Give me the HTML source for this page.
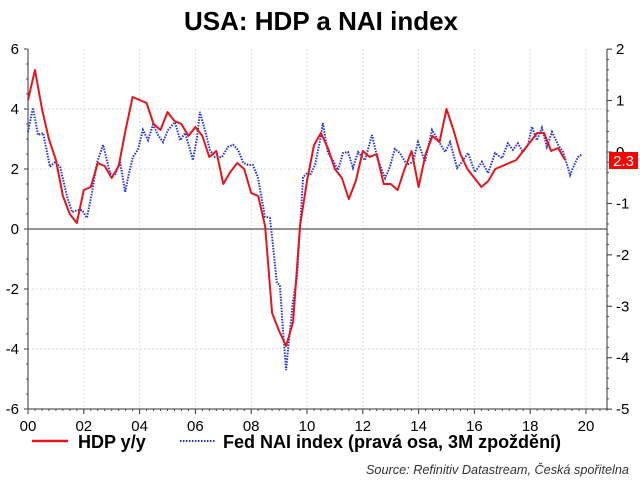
<!DOCTYPE html>
<html><head><meta charset="utf-8"><style>
body{margin:0;background:#fff;width:640px;height:488px;overflow:hidden;font-family:"Liberation Sans",Arial,sans-serif}
</style></head><body>
<svg id="c" width="640" height="488" xmlns="http://www.w3.org/2000/svg">
<text x="321" y="30" text-anchor="middle" font-size="26" font-weight="bold">USA: HDP a NAI index</text>
<g id="grid"></g><g id="axes"></g><g id="series"></g>
<g>
<line x1="32" y1="441" x2="68" y2="441" stroke="#e8141c" stroke-width="2.5"/>
<text x="78" y="448" font-size="18" font-weight="bold">HDP y/y</text>
<line x1="180" y1="441" x2="215" y2="441" stroke="#2233dd" stroke-width="2" stroke-dasharray="1.5,1.5"/>
<text x="223" y="448" font-size="18" font-weight="bold">Fed NAI index (pravá osa, 3M zpoždění)</text>
</g>
<text x="629" y="474" text-anchor="end" font-size="12.7" font-style="italic" fill="#333">Source: Refinitiv Datastream, Česká spořitelna</text>
</svg>
<script>
const hdpStart = 2000;
const hdp = [4.3,5.3,4.0,3.0, 2.3,1.1,0.5,0.2, 1.3,1.4,2.2,2.1, 1.7,2.1,3.3,4.4,
 4.3,4.2,3.5,3.3, 3.9,3.6,3.5,3.1, 3.4,3.1,2.4,2.6, 1.5,1.9,2.2,2.0,
 1.2,1.1,0.1,-2.8, -3.4,-3.9,-3.1,0.1, 1.6,2.8,3.2,2.7, 2.0,1.7,1.0,1.6,
 2.6,2.4,2.5,1.5, 1.5,1.3,2.0,2.6, 1.4,2.5,3.1,2.9, 4.0,3.3,2.5,2.0,
 1.7,1.4,1.6,2.0, 2.1,2.2,2.3,2.6, 2.9,3.2,3.2,2.6, 2.7,2.3];
const naiDates = [0.00,0.18,0.36,0.54,0.79,0.97,1.15,1.40,1.58,1.76,1.94,2.11,2.29,2.47,2.69,2.94,3.12,3.30,3.48,3.58,3.76,3.94,4.12,4.30,4.48,4.66,4.84,5.02,5.27,5.45,5.63,5.81,5.91,6.06,6.16,6.34,6.52,6.70,6.95,7.17,7.35,7.53,7.71,7.89,8.06,8.24,8.49,8.67,8.75,8.92,9.03,9.14,9.25,9.32,9.50,9.64,9.75,9.86,10.0,10.11,10.29,10.47,10.57,10.75,10.93,11.11,11.29,11.47,11.65,11.83,12.08,12.33,12.54,12.80,12.97,13.15,13.33,13.58,13.80,13.98,14.23,14.48,14.70,14.95,15.13,15.38,15.56,15.77,16.02,16.27,16.49,16.74,16.99,17.20,17.38,17.56,17.74,17.92,18.06,18.24,18.42,18.60,18.78,19.00,19.18,19.43,19.53,19.71,19.85];
const nai = [0.39,0.86,0.33,0.37,-0.29,-0.19,-0.29,-0.87,-1.17,-1.13,-1.13,-1.28,-0.8,-0.21,0.14,-0.41,-0.45,-0.19,-0.78,-0.51,-0.1,0.04,0.43,0.23,0.53,0.33,0.19,0.43,0.58,0.23,0.37,0.04,-0.16,0.29,0.78,0.43,0.04,-0.1,-0.1,0.1,0.14,0.04,-0.21,-0.25,-0.25,-0.49,-1.26,-1.28,-1.65,-2.55,-2.59,-3.46,-4.24,-3.85,-2.88,-2.43,-1.46,-0.49,-0.41,-0.45,-0.25,0.23,0.56,-0.02,-0.16,-0.35,-0.02,0,-0.31,0,-0.16,0.33,-0.16,-0.51,-0.29,0.06,-0.02,-0.25,-0.19,0.19,-0.19,0.43,0.23,0,0.19,-0.31,-0.19,-0.02,-0.39,-0.19,-0.41,-0.02,-0.12,0.17,0.04,0.17,0,0.14,0.49,0.23,0.47,0.1,0.39,0.14,0,-0.45,-0.31,-0.1,-0.05];
const xLabels = ["00","02","04","06","08","10","12","14","16","18","20"];
const leftTicks = [6,4,2,0,-2,-4,-6];
const rightTicks = [2,1,0,-1,-2,-3,-4,-5];
const lastLabel = "2.3";

const NS="http://www.w3.org/2000/svg";
const X0=28,X1=607,Y0=49,Y1=409;
const xs=y=>28+(y)*27.9;
const yl=v=>229-v*30;
const yr=v=>152-v*(360/7);
function mk(tag,attrs,parent){const e=document.createElementNS(NS,tag);for(const k in attrs)e.setAttribute(k,attrs[k]);parent.appendChild(e);return e;}
const grid=document.getElementById('grid'),axes=document.getElementById('axes'),ser=document.getElementById('series');
xLabels.forEach((l,i)=>{const x=xs(i*2);
 if(i>0){const g=mk('line',{x1:x,y1:Y0,x2:x,y2:Y1,stroke:'#ddd','stroke-dasharray':'2,2'},grid);
 
 }
 const t=mk('text',{x:x,y:431,'text-anchor':'middle','font-size':15},axes);t.textContent=l;
 
 
 mk('line',{x1:x,y1:Y1,x2:x,y2:Y1+5,stroke:'#333'},axes);
});
for(let q=0;q<=83;q++){mk('line',{x1:xs(q/4),y1:Y1,x2:xs(q/4),y2:Y1+2,stroke:'#555'},axes);}
leftTicks.forEach(v=>{const y=yl(v);
 if(v!==0&&v!==6&&v!==-6){const g=mk('line',{x1:X0,y1:y,x2:X1,y2:y,stroke:'#ddd','stroke-dasharray':'2,2'},grid);
 
 }
 mk('line',{x1:X0-4,y1:y,x2:X0,y2:y,stroke:'#333'},axes);
 const t=mk('text',{x:19,y:y+5,'text-anchor':'end','font-size':15},axes);t.textContent=v;
 
 
});
for(let v=-6;v<=6;v+=0.5)mk('line',{x1:X0-2,y1:yl(v),x2:X0,y2:yl(v),stroke:'#555'},axes);
rightTicks.forEach(v=>{const y=yr(v);
 mk('line',{x1:X1,y1:y,x2:X1+5,y2:y,stroke:'#333'},axes);
 const t=mk('text',{x:616,y:y+5,'font-size':15},axes);t.textContent=v;
 
 
});
for(let v=-5;v<=2.01;v+=0.2)mk('line',{x1:X1,y1:yr(v),x2:X1+2,y2:yr(v),stroke:'#555'},axes);
const z=mk('line',{x1:X0,y1:yl(0),x2:X1,y2:yl(0),stroke:'#555','stroke-width':1.3},axes);


const la=mk('line',{x1:X0,y1:Y0,x2:X0,y2:Y1,stroke:'#333'},axes);


const ra=mk('line',{x1:X1,y1:Y0,x2:X1,y2:Y1,stroke:'#333'},axes);


const ba=mk('line',{x1:X0,y1:Y1,x2:X1,y2:Y1,stroke:'#333'},axes);


const hp=hdp.map((v,i)=>xs(hdpStart-2000+i/4).toFixed(1)+','+yl(v).toFixed(1)).join(' ');
const np=nai.map((v,i)=>xs(naiDates[i]).toFixed(1)+','+yr(v).toFixed(1)).join(' ');
const nl=mk('polyline',{points:np,fill:'none',stroke:'#2233dd','stroke-width':2,'stroke-dasharray':'1.5,1.3'},ser);


const hl=mk('polyline',{points:hp,fill:'none',stroke:'#e8141c','stroke-width':2,'stroke-linejoin':'round'},ser);


const lb=mk('rect',{x:609,y:yr(0),width:29,height:17,fill:'#ff0000'},ser);


const lt=mk('text',{x:623.5,y:yr(0)+14,'text-anchor':'middle','font-size':15,fill:'#fff'},ser);lt.textContent=lastLabel;


</script>
</body></html>
